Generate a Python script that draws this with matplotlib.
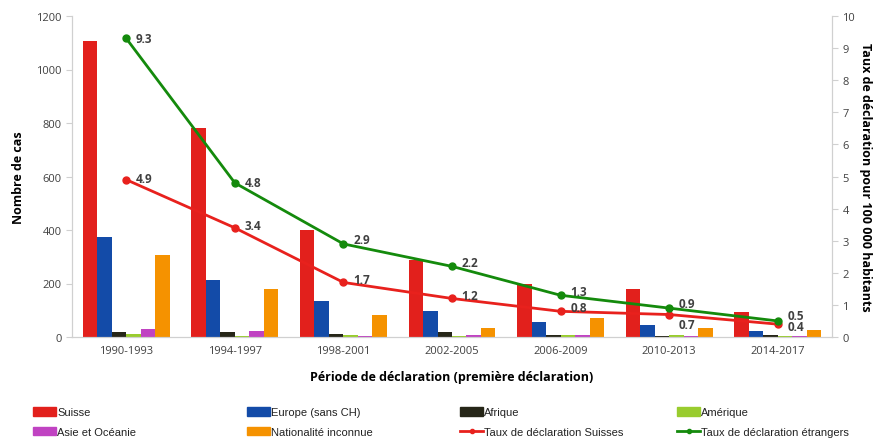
import numpy as np
import matplotlib.pyplot as plt
from matplotlib.patches import Patch
from matplotlib.lines import Line2D

plt.rcParams['font.family'] = ['Open Sans', 'DejaVu Sans']

periodes = ['1990-1993', '1994-1997', '1998-2001', '2002-2005', '2006-2009', '2010-2013', '2014-2017']

suisse = [1105, 780, 400, 288, 197, 178, 95]
europe = [373, 213, 136, 97, 57, 45, 24]
afrique = [17, 17, 10, 18, 7, 5, 7]
amerique = [10, 2, 9, 5, 6, 9, 3]
asie = [30, 22, 5, 6, 6, 4, 3]
inconnue = [305, 178, 82, 34, 70, 34, 26]

taux_suisses = [4.9, 3.4, 1.7, 1.2, 0.8, 0.7, 0.4]
taux_etrangers = [9.3, 4.8, 2.9, 2.2, 1.3, 0.9, 0.5]

series = [
    ('Suisse', suisse, '#E2201C'),
    ('Europe (sans CH)', europe, '#134BA8'),
    ('Afrique', afrique, '#262618'),
    ('Amérique', amerique, '#99CC2E'),
    ('Asie et Océanie', asie, '#C043C2'),
    ('Nationalité inconnue', inconnue, '#F59200'),
]
red_line = '#E8211D'
green_line = '#148A0C'
gray_txt = '#404040'

fig = plt.figure(figsize=(8.81, 4.39), dpi=100)
ax = fig.add_axes([72/881, 101/439, 760/881, 321/439])
ax2 = ax.twinx()

x = np.arange(len(periodes))
w = 0.8 / 6
for i, (name, vals, col) in enumerate(series):
    ax.bar(x - 0.4 + w * (i + 0.5), vals, w, color=col, zorder=2)

ax.set_xlim(-0.5, len(periodes) - 0.5)
ax.set_ylim(0, 1200)
ax.set_yticks(np.arange(0, 1201, 200))
ax.set_xticks(x)
ax.set_xticklabels(periodes)
ax2.set_ylim(0, 10)
ax2.set_yticks(range(11))

for a in (ax, ax2):
    for s in a.spines.values():
        s.set_color('#D0D0D0')
    a.spines['top'].set_visible(False)
    a.tick_params(colors='#D0D0D0', labelcolor=gray_txt, labelsize=8, length=4)
ax.tick_params(axis='x', length=0, pad=6)

ax2.plot(x, taux_suisses, color=red_line, lw=2, marker='o', ms=5, zorder=3)
ax2.plot(x, taux_etrangers, color=green_line, lw=2, marker='o', ms=5, zorder=3)

off_s = [(7, 1), (7, 2), (7, 2), (7, 2), (7, 3), (7, -7), (7, -2)]
off_e = [(7, 0), (7, 0), (7, 3), (7, 3), (7, 3), (7, 3), (7, 4)]
for i in range(len(periodes)):
    ax2.annotate(f'{taux_suisses[i]:.1f}', (x[i], taux_suisses[i]), xytext=off_s[i],
                 textcoords='offset points', fontsize=8.5, fontweight='bold',
                 color=gray_txt, va='center', ha='left')
    ax2.annotate(f'{taux_etrangers[i]:.1f}', (x[i], taux_etrangers[i]), xytext=off_e[i],
                 textcoords='offset points', fontsize=8.5, fontweight='bold',
                 color=gray_txt, va='center', ha='left')

ax.set_ylabel('Nombre de cas', fontsize=9, fontweight='bold', color='black', labelpad=8)
ax.set_xlabel('Période de déclaration (première déclaration)', fontsize=9,
              fontweight='bold', color='black', labelpad=10)
ax2.set_ylabel('Taux de déclaration pour 100 000 habitants', fontsize=9,
               fontweight='bold', color='black', rotation=270, labelpad=12)

handles = [Patch(color=c) for _, _, c in series]
handles += [Line2D([], [], color=red_line, lw=2, marker='o', ms=3),
            Line2D([], [], color=green_line, lw=2, marker='o', ms=3)]
labels = [n for n, _, _ in series] + ['Taux de déclaration Suisses', 'Taux de déclaration étrangers']

cols_x = [33, 247, 460, 677]
for c in range(4):
    idx = [c, c + 4]
    leg = fig.legend([handles[k] for k in idx], [labels[k] for k in idx],
                     loc='upper left', bbox_to_anchor=(cols_x[c]/881, 31/439),
                     frameon=False, borderpad=0, handlelength=2.1, handleheight=0.8,
                     handletextpad=0.1, labelspacing=0.85, borderaxespad=0,
                     prop={'family': ['Liberation Sans Narrow', 'Liberation Sans', 'DejaVu Sans'],
                           'size': 8})
    for t in leg.get_texts():
        t.set_color('#222222')

fig.savefig('out.png', dpi=100)
